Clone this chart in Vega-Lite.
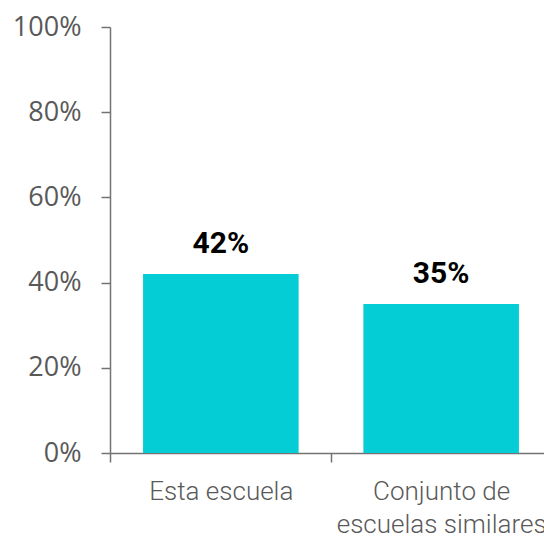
{
  "$schema": "https://vega.github.io/schema/vega-lite/v6.json",
  "width": 442,
  "height": 426,
  "autosize": {"type": "none"},
  "padding": {"left": 110, "top": 27, "right": 0, "bottom": 83},
  "background": "white",
  "config": {"view": {"stroke": null}},
  "data": {"values": [
    {"grupo": "Esta escuela", "valor": 0.42},
    {"grupo": "Conjunto de escuelas similares", "valor": 0.35}
  ]},
  "encoding": {
    "x": {
      "field": "grupo", "type": "nominal", "sort": null,
      "scale": {"paddingInner": 0.294, "paddingOuter": 0.15},
      "axis": {
        "title": null, "labelAngle": 0, "tickOffset": -110.5, "labelOffset": 110.5,
        "ticks": true, "tickWidth": 1.5, "domainWidth": 1.5,
        "domainColor": "#737373", "tickColor": "#737373", "tickSize": 9,
        "labelFont": "Roboto", "labelFontWeight": 300, "labelFontSize": 26,
        "labelColor": "#595959", "labelPadding": 16, "labelLineHeight": 33,
        "labelLimit": 0,
        "labelExpr": "datum.label == 'Conjunto de escuelas similares' ? ['Conjunto de', 'escuelas similares'] : datum.label"
      }
    },
    "y": {
      "field": "valor", "type": "quantitative",
      "scale": {"domain": [0, 1]},
      "axis": {
        "title": null, "format": "%", "values": [0, 0.2, 0.4, 0.6, 0.8, 1],
        "grid": false, "ticks": true, "tickWidth": 1.5, "domainWidth": 1.5,
        "domainColor": "#737373", "tickColor": "#737373", "tickSize": 9,
        "labelFont": "Open Sans", "labelFontSize": 27, "labelColor": "#595959",
        "labelPadding": 20
      }
    }
  },
  "layer": [
    {"mark": {"type": "bar", "color": "#05CDD6"}},
    {
      "mark": {"type": "text", "baseline": "alphabetic", "dy": -21, "font": "Roboto", "fontWeight": "bold", "fontSize": 30, "color": "#000000"},
      "encoding": {"text": {"field": "valor", "type": "quantitative", "format": ".0%"}}
    }
  ]
}
